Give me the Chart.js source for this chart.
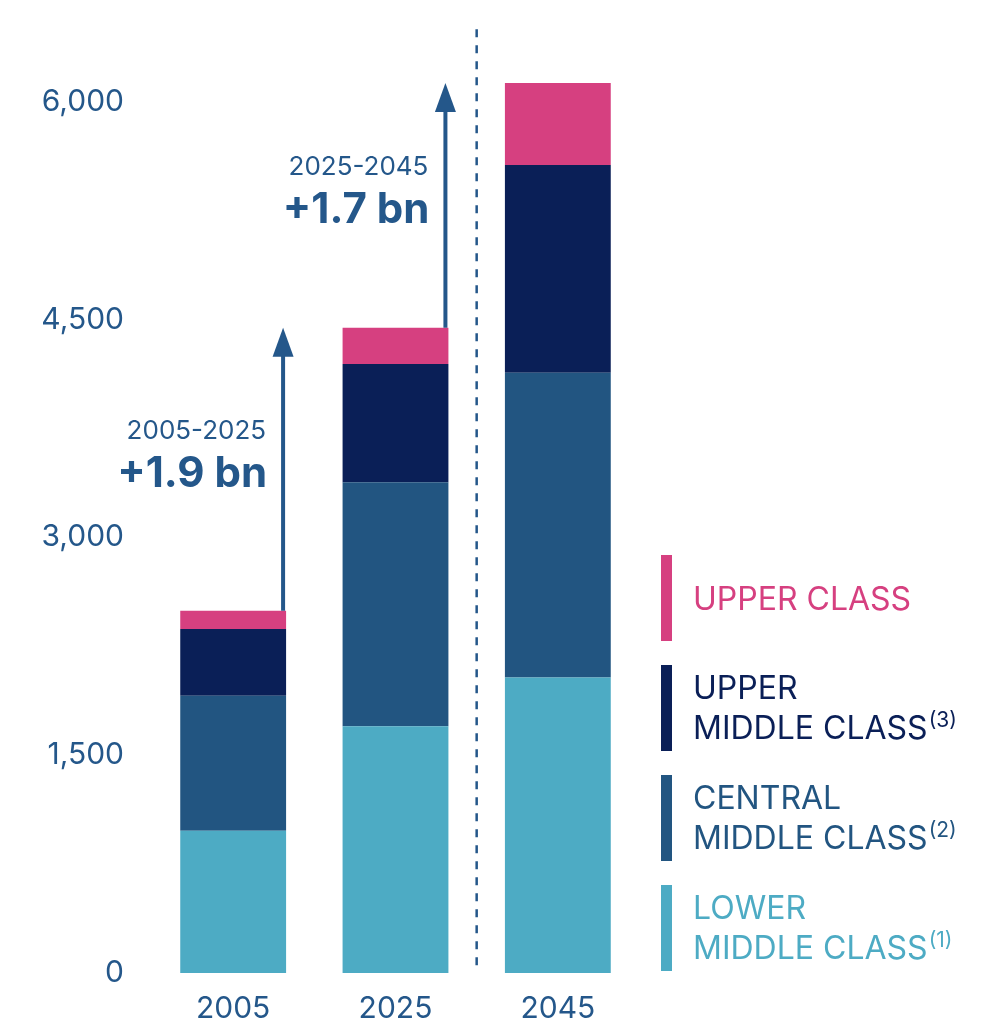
<!DOCTYPE html>
<html>
<head>
<meta charset="utf-8">
<script src="https://cdn.jsdelivr.net/npm/chart.js@4"></script>
<style>
  body { margin: 0; background: #fff; }
  #wrap { width: 995px; height: 1024px; position: relative; }
</style>
</head>
<body>
<div id="wrap"><canvas id="classChart"></canvas></div>
<script>
// Data (millions of people)
const years = ["2005", "2025", "2045"];
const lowerMiddle = [980, 1700, 2035];
const centralMiddle = [930, 1680, 2100];
const upperMiddle = [460, 815, 1430];
const upperClass = [125, 250, 565];
const tickValues = [0, 1500, 3000, 4500, 6000];

// growth annotations between bars
const growthPeriods = ["2005-2025", "2025-2045"];
const growthLabels = ["+1.9 bn", "+1.7 bn"];

// legend text (top to bottom)
const legendLines = [
  ["UPPER CLASS"],
  ["UPPER", "MIDDLE CLASS"],
  ["CENTRAL", "MIDDLE CLASS"],
  ["LOWER", "MIDDLE CLASS"],
];
const legendNotes = ["", "(3)", "(2)", "(1)"];

const colors = {
  lower: "#4DABC4",
  central: "#225581",
  upperMid: "#0A1F57",
  upper: "#D64080",
  text: "#24578A",
};
const legendColors = [colors.upper, colors.upperMid, colors.central, colors.lower];
const FONT = "Inter, 'Noto Sans', sans-serif";

const ctx = document.getElementById("classChart").getContext("2d");

// dashed divider + growth arrows + annotation text
const annotationPlugin = {
  id: "annotations",
  afterDatasetsDraw: (chart) => {
    const { ctx } = chart;
    const x = chart.scales.x;
    const y = chart.scales.y;
    const meta = chart.getDatasetMeta(3);
    const totals = years.map((_, i) =>
      lowerMiddle[i] + centralMiddle[i] + upperMiddle[i] + upperClass[i]
    );

    ctx.save();

    // dashed line between 2025 and 2045
    const divX = (x.getPixelForValue(1) + x.getPixelForValue(2)) / 2;
    ctx.strokeStyle = colors.text;
    ctx.lineWidth = 2.5;
    ctx.setLineDash([8, 8]);
    ctx.beginPath();
    ctx.moveTo(divX, y.getPixelForValue(6500));
    ctx.lineTo(divX, y.getPixelForValue(0) - 2);
    ctx.stroke();
    ctx.setLineDash([]);

    for (let i = 0; i < growthLabels.length; i++) {
      const bar = meta.data[i];
      const ax = bar.x + bar.width / 2 - 3;
      const yFrom = y.getPixelForValue(totals[i]);
      const yTo = y.getPixelForValue(totals[i + 1]);

      // shaft
      ctx.strokeStyle = colors.text;
      ctx.lineWidth = 4;
      ctx.beginPath();
      ctx.moveTo(ax, yFrom);
      ctx.lineTo(ax, yTo + 20);
      ctx.stroke();

      // head
      ctx.fillStyle = colors.text;
      ctx.beginPath();
      ctx.moveTo(ax, yTo);
      ctx.lineTo(ax - 10.5, yTo + 29);
      ctx.lineTo(ax + 10.5, yTo + 29);
      ctx.closePath();
      ctx.fill();

      // text
      const mid = (yFrom + yTo) / 2;
      ctx.textAlign = "right";
      ctx.textBaseline = "alphabetic";
      ctx.font = `400 26px ${FONT}`;
      ctx.fillText(growthPeriods[i], ax - 17, mid - 30);
      ctx.font = `700 42px ${FONT}`;
      ctx.fillText(growthLabels[i], ax - 16, mid + 18);
    }

    ctx.restore();
  },
};

// custom legend on the right
const legendPlugin = {
  id: "sideLegend",
  afterDraw: (chart) => {
    const { ctx } = chart;
    const barX = 661;
    const textX = 693;
    let top = 555;
    ctx.save();
    legendLines.forEach((lines, i) => {
      ctx.fillStyle = legendColors[i];
      ctx.fillRect(barX, top, 11, 86);
      ctx.font = `400 32px ${FONT}`;
      ctx.textAlign = "left";
      ctx.textBaseline = "alphabetic";
      if (lines.length === 1) {
        ctx.fillText(lines[0], textX, top + 55);
      } else {
        ctx.fillText(lines[0], textX, top + 34);
        ctx.fillText(lines[1], textX, top + 74);
        const w = ctx.measureText(lines[1]).width;
        ctx.font = `400 21px ${FONT}`;
        ctx.fillText(legendNotes[i], textX + w + 1, top + 62);
      }
      top += 110;
    });
    ctx.restore();
  },
};

new Chart(ctx, {
  type: "bar",
  data: {
    labels: years,
    datasets: [
      { label: "Lower middle class", data: lowerMiddle, backgroundColor: colors.lower },
      { label: "Central middle class", data: centralMiddle, backgroundColor: colors.central },
      { label: "Upper middle class", data: upperMiddle, backgroundColor: colors.upperMid },
      { label: "Upper class", data: upperClass, backgroundColor: colors.upper },
    ],
  },
  options: {
    responsive: true,
    maintainAspectRatio: false,
    animation: false,
    layout: { padding: { left: 0, right: 356, top: 0, bottom: 0 } },
    datasets: {
      bar: { barPercentage: 0.652, categoryPercentage: 1, borderWidth: 0 },
    },
    plugins: {
      legend: { display: false },
      tooltip: { enabled: false },
    },
    scales: {
      x: {
        stacked: true,
        grid: { display: false },
        border: { display: false },
        ticks: {
          color: colors.text,
          font: { family: FONT, size: 30 },
          padding: 10,
        },
        afterFit: (scale) => {
          scale.height = 51;
        },
      },
      y: {
        stacked: true,
        min: 0,
        max: 6440,
        grid: { display: false },
        border: { display: false },
        afterBuildTicks: (axis) => {
          axis.ticks = tickValues.map((v) => ({ value: v }));
        },
        ticks: {
          color: colors.text,
          font: { family: FONT, size: 30 },
          padding: 20,
          callback: (v) => v.toLocaleString("en-US"),
        },
        afterFit: (scale) => {
          scale.width = 152;
        },
      },
    },
  },
  plugins: [annotationPlugin, legendPlugin],
});
</script>
</body>
</html>
